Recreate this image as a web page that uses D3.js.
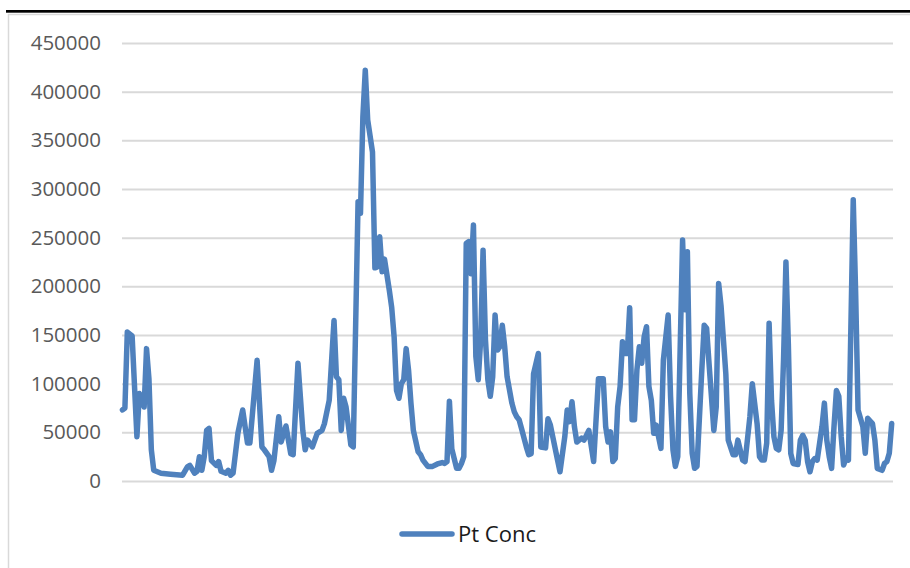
<!DOCTYPE html>
<html>
<head>
<meta charset="utf-8">
<script src="https://cdn.jsdelivr.net/npm/d3@7"></script>
<style>
  html, body { margin: 0; padding: 0; background: #ffffff; }
  svg { display: block; }
</style>
</head>
<body>
<svg id="chart" width="910" height="568"></svg>
<script>
/** Series name, as shown in the legend */
var seriesName = "Pt Conc";

/** Sample number of each reading (only the turning points of the trace are kept) */
var sampleNo = [
  0, 1, 2, 4, 6, 7, 8, 9, 10, 11, 12, 13, 16, 20, 25, 27, 28, 30, 31, 32,
  33, 34, 35, 36, 37, 39, 40, 41, 43, 44, 45, 46, 48, 50, 52, 53, 56, 58, 59, 61,
  62, 63, 65, 66, 68, 70, 71, 73, 75, 76, 77, 79, 81, 83, 84, 86, 88, 89, 90, 91,
  92, 93, 95, 96, 98, 99, 100, 101, 102, 104, 105, 106, 107, 108, 109, 111, 112, 113, 114, 115,
  116, 117, 118, 119, 120, 121, 123, 124, 125, 127, 129, 131, 133, 134, 135, 136, 137, 139, 140, 141,
  142, 143, 144, 145, 146, 147, 148, 149, 150, 151, 152, 153, 154, 155, 156, 157, 158, 159, 160, 162,
  163, 164, 165, 166, 168, 169, 170, 171, 173, 174, 176, 177, 178, 179, 181, 182, 184, 185, 186, 187,
  188, 189, 191, 192, 194, 196, 198, 200, 201, 202, 203, 204, 205, 206, 207, 208, 209, 210, 211, 212,
  213, 214, 215, 216, 217, 218, 219, 220, 221, 222, 223, 224, 225, 227, 228, 229, 230, 231, 233, 234,
  235, 236, 237, 238, 239, 241, 242, 243, 244, 245, 246, 247, 248, 249, 250, 251, 252, 254, 255, 256,
  258, 259, 261, 262, 264, 265, 266, 267, 268, 269, 270, 271, 272, 273, 274, 275, 276, 277, 278, 279,
  281, 282, 283, 284, 285, 286, 287, 288, 289, 291, 292, 293, 294, 295, 296, 297, 298, 299, 300, 301,
  302, 304, 305, 306, 308, 309, 310, 312, 313, 314, 316, 317, 318, 319, 320
];

/** Pt concentration read at each sample */
var ptConc = [
  73000, 75000, 153000, 149000, 45500, 90000, 86000, 76000, 136000, 105000, 32000, 11000, 8000, 7000, 6000, 14500, 16000, 8000, 10000, 25000,
  11000, 25000, 52000, 54000, 21000, 16000, 20000, 10000, 8000, 11000, 6000, 8000, 49000, 73000, 39000, 39000, 124000, 35000, 32000, 25000,
  11000, 21000, 66000, 40000, 56500, 28000, 27000, 121000, 52000, 32000, 42000, 35000, 49000, 52000, 59000, 83000, 165000, 107000, 104000, 52000,
  85000, 76000, 37000, 35000, 287000, 275000, 374000, 422000, 371000, 338000, 219000, 220000, 251000, 215000, 228000, 196000, 178000, 148000, 93000, 85000,
  100000, 104000, 136000, 114000, 80000, 52000, 30000, 27000, 21500, 15000, 15000, 17500, 19000, 18000, 20000, 82000, 33000, 13000, 13000, 18000,
  25000, 244000, 246000, 213000, 263000, 128000, 104000, 145000, 237000, 145000, 104000, 87000, 107000, 170500, 134500, 138000, 160000, 138000, 107000, 80000,
  71000, 66000, 63000, 54000, 35000, 27000, 28000, 110000, 131000, 35000, 34000, 64000, 57500, 45500, 21500, 9500, 45500, 73000, 61000, 81500,
  56000, 40000, 44000, 42000, 52000, 20000, 105000, 105000, 56000, 40000, 50500, 20000, 23000, 76000, 97000, 143000, 131000, 131000, 178000, 63000,
  63000, 114000, 138000, 121000, 148000, 158500, 97000, 83000, 49000, 57500, 45500, 33500, 124000, 170500, 87000, 32000, 15000, 25000, 247500, 176000,
  235500, 90000, 28500, 13000, 15000, 114000, 160000, 157000, 121000, 87000, 52000, 76000, 203000, 180000, 145000, 110000, 42000, 27000, 27000, 42000,
  21500, 20000, 66000, 100000, 59000, 25000, 21500, 21500, 39000, 162000, 83000, 45500, 33500, 32000, 52000, 124000, 225000, 141000, 28500, 18000,
  17000, 42000, 47000, 42000, 20000, 9500, 20000, 23000, 21500, 56000, 80000, 42000, 25000, 13000, 56000, 93000, 87000, 45500, 16500, 23000,
  21500, 289000, 193000, 73000, 56000, 28500, 64500, 59000, 42000, 13000, 11000, 18000, 20000, 28500, 59000
];

/** Value axis ticks */
var yTicks = [0, 50000, 100000, 150000, 200000, 250000, 300000, 350000, 400000, 450000];

var svg = d3.select("#chart");

/** Plot area bounds */
var plotLeft = 122, plotRight = 893, plotTop = 43, plotBottom = 481;

/** Page frame: heavy black rule over a light chart border */
svg.append("rect")
  .attr("x", 6).attr("y", 10)
  .attr("width", 904).attr("height", 2.7)
  .attr("fill", "#000000");
svg.append("rect")
  .attr("x", 8.5).attr("y", 14.5)
  .attr("width", 1000).attr("height", 1000)
  .attr("fill", "none")
  .attr("stroke", "#d9d9d9")
  .attr("stroke-width", 1.5);

var x = d3.scaleLinear()
  .domain([0, 320])
  .range([122.5, 891.7]);

var y = d3.scaleLinear()
  .domain([0, 450000])
  .range([plotBottom, plotTop]);

/** Value axis with gridlines across the plot */
var yAxis = d3.axisLeft(y)
  .tickValues(yTicks)
  .tickFormat(d3.format("d"))
  .tickSizeInner(-(plotRight - plotLeft))
  .tickSizeOuter(0)
  .tickPadding(21);

var gy = svg.append("g")
  .attr("transform", "translate(" + plotLeft + ",0)")
  .call(yAxis);
gy.select(".domain").remove();
gy.selectAll(".tick line")
  .attr("stroke", "#d9d9d9")
  .attr("stroke-width", 2);
gy.selectAll(".tick text")
  .attr("fill", "#595959")
  .style("font-family", "'Open Sans', sans-serif")
  .style("font-size", "20.5px");

/** The series line */
var points = sampleNo.map(function(s, i) { return [s, ptConc[i]]; });
var line = d3.line()
  .x(function(d) { return x(d[0]); })
  .y(function(d) { return y(d[1]); });

svg.append("path")
  .datum(points)
  .attr("d", line)
  .attr("fill", "none")
  .attr("stroke", "#4f81bd")
  .attr("stroke-width", 5.5)
  .attr("stroke-linejoin", "round")
  .attr("stroke-linecap", "round");

/** Legend */
var legend = svg.append("g");
legend.append("line")
  .attr("x1", 402).attr("x2", 452)
  .attr("y1", 534).attr("y2", 534)
  .attr("stroke", "#4f81bd")
  .attr("stroke-width", 5.5)
  .attr("stroke-linecap", "round");
legend.append("text")
  .attr("x", 458).attr("y", 534)
  .attr("dy", "0.35em")
  .attr("fill", "#1a1a1a")
  .style("font-family", "'Open Sans', sans-serif")
  .style("font-size", "22px")
  .text(seriesName);
</script>
</body>
</html>
